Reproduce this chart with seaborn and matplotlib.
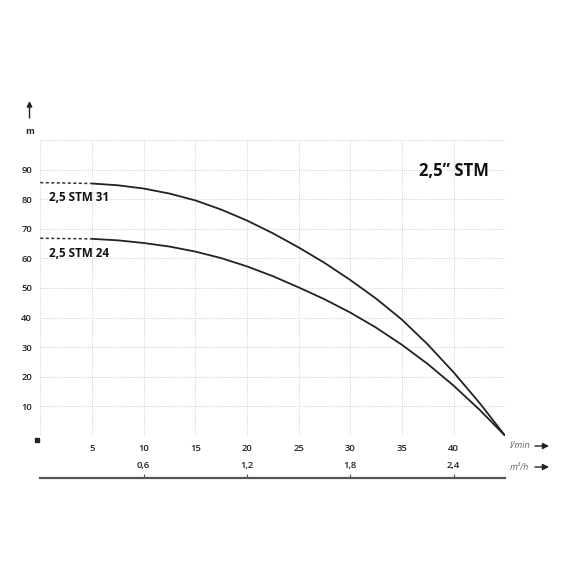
import pandas as pd
import seaborn as sns
import matplotlib.pyplot as plt
from matplotlib.patches import Rectangle

# flow in l/min, head in m
flow = [5, 7.5, 10, 12.5, 15, 17.5, 20, 22.5, 25, 27.5, 30, 32.5, 35, 37.5, 40, 42.5, 45]
head_stm31 = [85.3, 84.7, 83.6, 81.9, 79.6, 76.5, 72.8, 68.5, 63.7, 58.5, 52.7, 46.4, 39.3, 30.9, 21.5, 11.2, 0]
head_stm24 = [66.6, 66.1, 65.2, 64.0, 62.3, 60.1, 57.3, 54.0, 50.2, 46.2, 41.7, 36.6, 30.8, 24.3, 17.0, 8.9, 0]

# dashed start (zero flow up to 5 l/min)
flow_start = [0, 5]
start_stm31 = [85.6, 85.3]
start_stm24 = [66.8, 66.6]

pumps = ['2,5 STM 31', '2,5 STM 24']
x_ticks = [0, 5, 10, 15, 20, 25, 30, 35, 40, 45]
y_ticks = [0, 10, 20, 30, 40, 50, 60, 70, 80, 90, 100]
m3h_ticks = [0.6, 1.2, 1.8, 2.4]

sns.set_theme(style='white')
plt.rcParams['font.family'] = ['Open Sans', 'DejaVu Sans']

curves = pd.DataFrame({
    'flow': flow + flow,
    'head': head_stm31 + head_stm24,
    'pump': [pumps[0]] * len(flow) + [pumps[1]] * len(flow),
})
starts = pd.DataFrame({
    'flow': flow_start + flow_start,
    'head': start_stm31 + start_stm24,
    'pump': [pumps[0]] * 2 + [pumps[1]] * 2,
})

fig = plt.figure(figsize=(5.7, 5.7), dpi=100)
ax = fig.add_axes([0.0707, 0.2351, 0.8158, 0.5193])

line_col = '#222222'
sns.lineplot(data=curves, x='flow', y='head', hue='pump', palette=[line_col, line_col],
             estimator=None, sort=False, legend=False, linewidth=1.3, ax=ax)
sns.lineplot(data=starts, x='flow', y='head', hue='pump', palette=['#333333', '#333333'],
             estimator=None, sort=False, legend=False, linewidth=1.1, ax=ax,
             linestyle=(0, (2.0, 1.6)))

ax.set_xlim(0, 45)
ax.set_ylim(0, 100)
ax.set_xticks(x_ticks)
ax.set_xticklabels(['' if t in (0, 45) else str(t) for t in x_ticks])
ax.set_yticks(y_ticks)
ax.set_yticklabels(['' if t in (0, 100) else str(t) for t in y_ticks])
ax.set_xlabel('')
ax.set_ylabel('')
ax.grid(True, color='#d2d2d2', linestyle=(0, (1, 1.2)), linewidth=0.7)
for s in ax.spines.values():
    s.set_visible(False)
ax.tick_params(axis='both', length=0, labelsize=6.8, colors='#222222')
ax.tick_params(axis='x', pad=6)
ax.tick_params(axis='y', pad=6)
for lab in ax.get_xticklabels() + ax.get_yticklabels():
    lab.set_fontweight('semibold')

# second flow scale in m3/h
sec = ax.secondary_xaxis(-0.142, functions=(lambda x: x * 0.06, lambda x: x / 0.06))
sec.set_alignment('top')
sec.set_xticks(m3h_ticks)
sec.set_xticklabels([f'{t:.1f}'.replace('.', ',') for t in m3h_ticks])
sec.spines['top'].set_color('#555555')
sec.spines['top'].set_linewidth(1.6)
sec.tick_params(axis='x', direction='out', length=3, width=0.8, color='#555555',
                labelsize=6.8, labelcolor='#222222', pad=2.5)
for lab in sec.get_xticklabels():
    lab.set_fontweight('semibold')

# curve labels and title
ax.text(0.85, 80.5, pumps[0], fontsize=8.4, fontweight='bold', va='center', ha='left', color='#111111')
ax.text(0.85, 61.5, pumps[1], fontsize=8.4, fontweight='bold', va='center', ha='left', color='#111111')
ax.text(40, 89.5, '2,5\u201d STM', fontsize=12, fontweight='bold', va='center', ha='center', color='#111111')

# unit labels and arrows
fig.text(510 / 570, 1 - 446 / 570, 'l/min', fontsize=6.5, style='italic', color='#666666', va='center')
fig.text(510 / 570, 1 - 467 / 570, 'm\u00b3/h', fontsize=6.5, style='italic', color='#666666', va='center')
for yy in (446, 467):
    ax.annotate('', xy=(549 / 570, 1 - yy / 570), xytext=(535 / 570, 1 - yy / 570),
                xycoords='figure fraction',
                arrowprops=dict(arrowstyle='-|>', color='#222222', lw=1.0,
                                mutation_scale=9, shrinkA=0, shrinkB=0))
ax.annotate('', xy=(29.5 / 570, 1 - 101 / 570), xytext=(29.5 / 570, 1 - 118 / 570),
            xycoords='figure fraction',
            arrowprops=dict(arrowstyle='-|>', color='#222222', lw=1.0,
                            mutation_scale=8, shrinkA=0, shrinkB=0))
fig.text(29.5 / 570, 1 - 131 / 570, 'm', fontsize=6.5, fontweight='bold', color='#222222',
         ha='center', va='center')
fig.patches.append(Rectangle((35.3 / 570, 1 - 442 / 570), 4 / 570, 4 / 570,
                             transform=fig.transFigure, color='#222222'))

fig.savefig('out.png', dpi=100, facecolor='white')
